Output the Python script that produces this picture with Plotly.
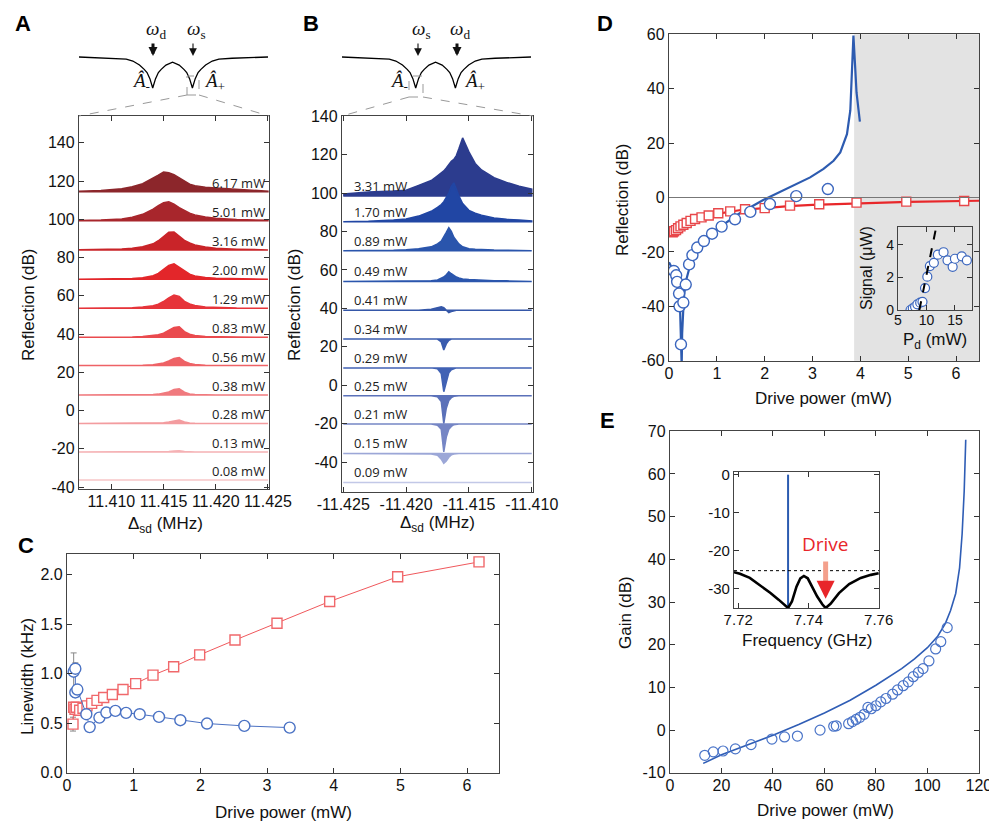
import plotly.graph_objects as go

# Reference canvas size in pixels; the page body adds an 8 px margin
W, H = 997, 831
PAD = 8
FW, FH = W - 2 * PAD, H - 2 * PAD

# ---------------- Panel A : red spectra (waterfall, offset in dB) ----------------
a_grid = [11.4069, 11.409, 11.411, 11.412, 11.413, 11.414, 11.4145, 11.415, 11.4155,
          11.416, 11.4165, 11.417, 11.4175, 11.418, 11.419, 11.420, 11.422, 11.425]
a_labels = ["6.17 mW", "5.01 mW", "3.16 mW", "2.00 mW", "1.29 mW", "0.83 mW",
            "0.56 mW", "0.38 mW", "0.28 mW", "0.13 mW", "0.08 mW"]
a_base = [114.4, 99.3, 84.0, 68.7, 53.5, 38.3, 23.5, 8.1, -6.7, -21.7, -36.3]
a_rise = [
  [0.2, 0.6, 1.6, 2.6, 4.2, 7.0, 8.7, 10.3, 9.9, 8.9, 7.3, 5.4, 4.0, 3.2, 2.3, 1.9, 1.4, 0.3],
  [0.1, 0.3, 0.9, 1.8, 3.3, 6.0, 7.8, 9.3, 9.8, 8.6, 6.8, 5.2, 3.9, 3.0, 1.9, 1.2, 0.6, 0.2],
  [0.1, 0.2, 0.5, 0.9, 1.6, 3.2, 4.8, 7.0, 9.2, 9.3, 7.2, 5.0, 3.6, 2.6, 1.5, 0.9, 0.4, 0.1],
  [0, 0.1, 0.2, 0.4, 0.8, 1.8, 3.0, 5.0, 7.2, 8.0, 6.2, 4.0, 2.6, 1.7, 0.9, 0.5, 0.2, 0],
  [0, 0, 0.1, 0.3, 0.6, 1.3, 2.1, 3.5, 5.4, 6.9, 6.2, 3.6, 2.2, 1.4, 0.6, 0.3, 0.1, 0],
  [0, 0, 0.1, 0.2, 0.4, 0.8, 1.3, 2.2, 3.6, 5.2, 5.5, 3.0, 1.6, 0.9, 0.4, 0.2, 0.1, 0],
  [0, 0, 0, 0.1, 0.2, 0.5, 0.8, 1.4, 2.4, 3.8, 4.2, 2.2, 1.1, 0.6, 0.2, 0.1, 0, 0],
  [0, 0, 0, 0, 0.1, 0.3, 0.5, 0.9, 1.6, 2.9, 3.3, 1.5, 0.6, 0.3, 0.1, 0, 0, 0],
  [0, 0, 0, 0, 0, 0.1, 0.2, 0.3, 0.7, 1.4, 1.7, 0.7, 0.2, 0.1, 0, 0, 0, 0],
  [0, 0, 0, 0, 0, 0, 0, 0.1, 0.3, 0.6, 0.7, 0.3, 0.1, 0, 0, 0, 0, 0],
  [0] * 18,
]
a_colors = ["#8C262B", "#A8262C", "#C92429", "#E3262A", "#E6343A", "#EA4A4E",
            "#EE6266", "#F07A7E", "#F39C9F", "#F5B1B4", "#F7C6C8"]
a_xticks = [11.410, 11.415, 11.420, 11.425]
a_xtext = ["11.410", "11.415", "11.420", "11.425"]

# ---------------- Panel B : blue spectra (absolute dB values) ----------------
b_grid = [-11.425, -11.423, -11.421, -11.420, -11.419, -11.418, -11.4175, -11.4172,
          -11.417, -11.4168, -11.4166, -11.4164, -11.4162, -11.416, -11.4158, -11.4155,
          -11.415, -11.4145, -11.414, -11.413, -11.412, -11.411, -11.410]
b_labels = ["3.31 mW", "1.70 mW", "0.89 mW", "0.49 mW", "0.41 mW", "0.34 mW",
            "0.29 mW", "0.25 mW", "0.21 mW", "0.15 mW", "0.09 mW"]
b_base = [98.5, 85.0, 70.0, 54.0, 39.0, 24.0, 9.0, -5.5, -20.2, -35.5, -50.6]
b_vals = [
  [99.5, 100.5, 101, 101.5, 104, 106.5, 109, 110.5, 111.5, 113, 115, 116.5, 117.5, 119.5,
   123, 128.7, 121.4, 115.4, 112, 108, 105.5, 103.5, 102],
  [85, 85.3, 86, 86.5, 88, 90.5, 92.5, 94, 95.5, 97.5, 100, 103.5, 105.3, 102, 98.5, 94.5,
   91, 89.5, 88.5, 87, 86.3, 86, 85.5],
  [70, 70, 70.2, 70.5, 71, 72, 73.5, 75, 77, 79.5, 82, 80, 77, 75, 73.5, 72, 71, 70.7,
   70.5, 70.3, 70.2, 70, 70],
  [54, 54, 54, 54, 54, 54.3, 54.8, 55.5, 56.3, 57.5, 59, 58, 57, 56.3, 55.8, 55.3, 55,
   54.8, 54.6, 54.4, 54.3, 54.2, 54],
  [39, 39, 39, 39, 39, 39.5, 40.5, 40.8, 40.3, 39.2, 37.8, 38.3, 38.8, 39, 39, 39, 39,
   39, 39, 39, 39, 39, 39],
  [24, 24, 24, 24, 24, 24, 24, 22.5, 18.3, 21.5, 23.3, 24, 24, 24, 24, 24, 24, 24, 24,
   24, 24, 24, 24],
  [9, 9, 9, 9, 9, 9, 8.5, 6, -3.4, 2, 6.5, 8, 8.6, 9, 9, 9, 9, 9, 9, 9, 9, 9, 9],
  [-5.5, -5.5, -5.5, -5.5, -5.5, -5.5, -6, -8.5, -20, -12, -8, -6.5, -5.8, -5.5, -5.5,
   -5.5, -5.5, -5.5, -5.5, -5.5, -5.5, -5.5, -5.5],
  [-20.2, -20.2, -20.2, -20.2, -20.2, -20.2, -20.8, -23, -34.7, -27, -23, -21.5, -20.6,
   -20.2, -20.2, -20.2, -20.2, -20.2, -20.2, -20.2, -20.2, -20.2, -20.2],
  [-35.5, -35.5, -35.5, -35.5, -35.5, -35.8, -36.5, -38.5, -40.7, -39.5, -37.5, -36.3,
   -35.8, -35.5, -35.5, -35.5, -35.5, -35.5, -35.5, -35.5, -35.5, -35.5, -35.5],
  [-50.6] * 23,
]
b_colors = ["#2C3C8E", "#2146A4", "#2A55AC", "#2B56AD", "#3557A8", "#3A5CAF",
            "#4162B4", "#5B71B9", "#7686C5", "#9CA7D7", "#C2C8E7"]
b_xticks = [-11.425, -11.420, -11.415, -11.410]
b_xtext = ["-11.425", "-11.420", "-11.415", "-11.410"]

refl_ticks = [-40, -20, 0, 20, 40, 60, 80, 100, 120, 140]
refl_text = ["-40", "-20", "0", "20", "40", "60", "80", "100", "120", "140"]

# schematic double-dip resonance (arbitrary units)
schem_x = [0, 10, 18, 25, 28.5, 32, 34.5, 36, 37.5, 39, 40.5, 42, 43.5, 46, 49.5, 53, 55.5,
           57, 58.5, 60, 61.5, 63, 64.5, 67, 70.5, 74, 81, 89, 100]
schem_y = [0, -0.02, -0.04, -0.07, -0.13, -0.26, -0.4, -0.5, -0.7, -1.0, -0.7, -0.5, -0.4,
           -0.26, -0.17, -0.26, -0.4, -0.5, -0.7, -1.0, -0.7, -0.5, -0.4, -0.26, -0.13,
           -0.07, -0.04, -0.02, 0]

# ---------------- Panel C : linewidth ----------------
c_red_x = [0.09, 0.10, 0.12, 0.14, 0.19, 0.24, 0.30, 0.37, 0.45, 0.55, 0.68, 0.84, 1.03,
           1.29, 1.60, 1.99, 2.52, 3.15, 3.94, 4.96, 6.18]
c_red_y = [0.49, 0.66, 0.64, 0.66, 0.63, 0.65, 0.675, 0.70, 0.73, 0.76, 0.79, 0.84, 0.90,
           0.985, 1.07, 1.19, 1.34, 1.51, 1.73, 1.98, 2.13]
c_red_err = [0.07, 0.03, 0.02, 0.02, 0, 0, 0, 0, 0, 0, 0, 0, 0, 0, 0, 0, 0, 0, 0, 0, 0]
c_blue_x = [0.10, 0.125, 0.125, 0.155, 0.29, 0.34, 0.486, 0.59, 0.726, 0.886, 1.09, 1.38,
            1.70, 2.10, 2.66, 3.34]
c_blue_y = [1.02, 1.05, 0.81, 0.84, 0.59, 0.46, 0.556, 0.607, 0.624, 0.604, 0.59, 0.563,
            0.53, 0.496, 0.472, 0.455]
c_blue_err = [0.19, 0.06, 0.05, 0.03, 0, 0, 0, 0, 0, 0, 0, 0, 0, 0, 0, 0]

# ---------------- Panel D : reflection vs drive power ----------------
d_blue_x = [0.10, 0.15, 0.17, 0.21, 0.22, 0.25, 0.30, 0.35, 0.42, 0.49, 0.59, 0.73, 0.90,
            1.10, 1.38, 1.70, 2.11, 2.66, 3.32]
d_blue_y = [-27.0, -28.6, -31.0, -35.3, -40.0, -54.0, -38.6, -32.0, -24.6, -21.2, -18.4,
            -16.0, -13.3, -10.7, -8.0, -5.3, -2.4, 0.5, 3.1]
d_red_x = [0.077, 0.105, 0.147, 0.19, 0.24, 0.30, 0.37, 0.45, 0.545, 0.68, 0.83, 1.03,
           1.28, 1.59, 2.0, 2.53, 3.14, 3.92, 4.96, 6.17]
d_red_y = [-12.8, -12.4, -12.0, -11.3, -10.6, -10.0, -9.4, -8.6, -7.9, -7.3, -6.6, -5.8,
           -5.1, -4.3, -3.9, -3.0, -2.5, -1.9, -1.5, -1.3]
d_blue_fit_x = [0.0, 0.08, 0.15, 0.2, 0.23, 0.245, 0.255, 0.265, 0.275, 0.29, 0.31, 0.35,
                0.44, 0.54, 0.7, 0.9, 1.13, 1.48, 1.97, 2.25, 2.6, 2.95, 3.23, 3.44, 3.58,
                3.72, 3.79, 3.83, 3.855, 3.89, 3.92, 3.96, 3.99]
d_blue_fit_y = [-23.8, -26.5, -30, -34, -40, -50, -62, -62, -50, -43, -37, -31, -25, -20.8,
                -16.5, -12.8, -10.0, -5.8, -0.9, 1.5, 4.3, 7.4, 10.5, 13.5, 16.6, 23.3, 32,
                48, 59.5, 48.4, 38.6, 32.5, 27.9]
d_red_fit_x = [0.0, 0.05, 0.1, 0.2, 0.3, 0.5, 0.75, 1.0, 1.5, 2.0, 2.5, 3.0, 4.0, 5.0, 6.5]
d_red_fit_y = [-14, -13, -12.3, -11, -10, -8.3, -7, -6, -4.6, -3.8, -3.2, -2.7, -2.1, -1.6,
               -1.2]
d_unstable_from = 3.87
d_xticks = [0, 1, 2, 3, 4, 5, 6]
d_yticks = [-60, -40, -20, 0, 20, 40, 60]
d_ytext = ["-60", "-40", "-20", "0", "20", "40", "60"]

# D inset : signal vs drive power
di_x = [7.2, 7.6, 8.0, 8.4, 8.9, 9.3, 9.75, 10.15, 10.6, 11.3, 12.0, 13.0, 13.7, 14.6,
        15.0, 16.2, 17.1]
di_y = [0.0, 0.1, 0.2, 0.35, 0.45, 0.5, 1.35, 2.05, 2.7, 2.9, 3.4, 3.55, 3.05, 2.65, 3.15,
        3.3, 3.05]
di_fit_x = [8.75, 11.6]
di_fit_y = [0, 4.9]

# ---------------- Panel E : gain ----------------
e_x = [13.5, 16.8, 20.6, 25.4, 31.5, 39.6, 44.5, 49.5, 58.3, 63.6, 64.6, 69.4, 70.9, 72.3,
       73.8, 75.4, 76.9, 78.2, 80.0, 81.9, 83.9, 86.5, 88.4, 90.6, 92.6, 94.5, 96.5, 98.3,
       100.6, 103.2, 105.2, 107.7]
e_y = [-5.9, -5.1, -4.9, -4.4, -3.4, -2.1, -1.6, -1.4, 0.0, 0.9, 1.0, 1.5, 2.0, 2.5, 3.0,
       3.7, 5.3, 5.0, 5.7, 6.6, 7.4, 8.4, 9.4, 10.4, 11.3, 12.5, 13.5, 14.4, 16.2, 19.0,
       20.7, 24.0]
e_fit_x = [12.9, 20, 30, 40, 50, 60, 70, 80, 90, 95, 100, 104, 107, 109, 111, 112.5, 113.5,
           114.3, 114.9]
e_fit_y = [-7.8, -5.8, -3.5, -1.2, 1.3, 4.0, 7.0, 10.5, 14.4, 16.7, 19.3, 22.0, 25.0, 28,
           32, 38, 46, 56, 68]

# E inset : spectrum
ei_f = [7.7188, 7.7205, 7.7233, 7.7262, 7.7291, 7.7315, 7.7334, 7.7342, 7.7353, 7.7366,
        7.7377, 7.7387, 7.7398, 7.7411, 7.7425, 7.744, 7.7449, 7.7463, 7.7487, 7.7516,
        7.7549, 7.7578, 7.76]
ei_p = [-25.6, -26.0, -27.1, -29.0, -31.0, -32.8, -34.3, -35.0, -33.3, -29.4, -27.2, -26.6,
        -27.2, -29.4, -32.0, -34.1, -35.0, -33.9, -31.1, -28.7, -27.1, -26.3, -25.9]
ei_signal_f = 7.7342
ei_drive_f = 7.7449
ei_level = -25.2


# pixel position in the browser window -> paper coordinate of the figure
def px(x):
  return (x - PAD) / FW


def py(y):
  return 1 - (y - PAD) / FH


def frame(dom, rng, tickvals, ticktext=None, size=16, anchor='y', standoff=0):
  ax = dict(domain=dom, range=rng, tickmode='array', tickvals=tickvals, ticks='inside',
            ticklen=5, tickwidth=1, tickcolor='#333', showline=True, linecolor='#444',
            linewidth=1.3, mirror='ticks', showgrid=False, zeroline=False, anchor=anchor,
            fixedrange=True, automargin=False, tickangle=0, ticklabeloverflow='allow',
            ticklabelstandoff=standoff,
            tickfont=dict(family='Liberation Sans, Arial', size=size, color='#111'))
  if ticktext is not None:
    ax['ticktext'] = ticktext
  return ax


fig = go.Figure()
layout = {}

# axis boxes (pixel positions in the window) : x-range, y-range
boxes = {
  1: ((79, 269), (116, 489)),
  2: ((342, 533), (116, 492)),
  3: ((67, 499), (554, 773)),
  4: ((669, 979), (34, 361)),
  5: ((898, 972), (227, 310)),
  6: ((670, 979), (431, 773)),
  7: ((734, 879), (472, 608)),
  8: ((79, 268), (50, 92)),
  9: ((342, 531), (50, 92)),
}


def set_axes(i, xr, yr, xt, xtxt, yt, ytxt, size=16, xstand=-2):
  (x0, x1), (y0, y1) = boxes[i]
  xk = 'xaxis' if i == 1 else 'xaxis%d' % i
  yk = 'yaxis' if i == 1 else 'yaxis%d' % i
  layout[xk] = frame([px(x0), px(x1)], xr, xt, xtxt, size,
                     anchor='y' if i == 1 else 'y%d' % i, standoff=xstand)
  layout[yk] = frame([py(y1), py(y0)], yr, yt, ytxt, size,
                     anchor='x' if i == 1 else 'x%d' % i)


set_axes(1, [11.4069, 11.4251], [-41, 154], a_xticks, a_xtext, refl_ticks, refl_text)
set_axes(2, [-11.4251, -11.4099], [-55.6, 140.1], b_xticks, b_xtext, refl_ticks, refl_text)
set_axes(3, [0, 6.48], [-0.004, 2.21], [0, 1, 2, 3, 4, 5, 6], None,
         [0, 0.5, 1.0, 1.5, 2.0], ["0.0", "0.5", "1.0", "1.5", "2.0"])
set_axes(4, [0, 6.48], [-60.1, 60.1], d_xticks, None, d_yticks, d_ytext)
set_axes(5, [5, 18], [0, 5.1], [5, 10, 15], None, [0, 2, 4], None, size=14, xstand=-3)
set_axes(6, [0, 120.05], [-10.05, 70.05], [0, 20, 40, 60, 80, 100, 120], None,
         [-10, 0, 10, 20, 30, 40, 50, 60, 70],
         ["-10", "0", "10", "20", "30", "40", "50", "60", "70"])
set_axes(7, [7.7188, 7.7601], [-35, 0.7], [7.72, 7.74, 7.76], ["7.72", "7.74", "7.76"],
         [0, -10, -20, -30], ["0", "-10", "-20", "-30"], size=15)
for i in (8, 9):
  (x0, x1), (y0, y1) = boxes[i]
  layout['xaxis%d' % i] = dict(domain=[px(x0), px(x1)], range=[0, 100], visible=False,
                               anchor='y%d' % i, fixedrange=True)
  layout['yaxis%d' % i] = dict(domain=[py(y1), py(y0)], range=[-1.13, 0.226], visible=False,
                               anchor='x%d' % i, fixedrange=True)

annotations = []


def note(text, x, y, font, angle=0):
  annotations.append(dict(x=px(x), y=py(y), xref='paper', yref='paper', showarrow=False,
                          text=text, textangle=angle, font=font,
                          xanchor='center', yanchor='middle'))


# Panel A traces (filled from baseline)
for base, rise, col, lab in zip(a_base, a_rise, a_colors, a_labels):
  ys = [base + r for r in rise]
  fig.add_trace(go.Scatter(
    x=a_grid + [a_grid[-1], a_grid[0]], y=ys + [base, base],
    fill='toself', fillcolor=col, mode='lines', line=dict(color=col, width=1.5),
    xaxis='x', yaxis='y', showlegend=False, hoverinfo='skip'))
  annotations.append(dict(x=11.4249, y=base, xref='x', yref='y', text=lab, showarrow=False,
                          xanchor='right', yanchor='bottom', yshift=-2,
                          font=dict(family='Open Sans', size=13, color='#222')))

# Panel B traces
for base, vals, col, lab in zip(b_base, b_vals, b_colors, b_labels):
  fig.add_trace(go.Scatter(
    x=b_grid + [b_grid[-1], b_grid[0]], y=vals + [base, base],
    fill='toself', fillcolor=col, mode='lines', line=dict(color=col, width=1.5),
    xaxis='x2', yaxis='y2', showlegend=False, hoverinfo='skip'))
  annotations.append(dict(x=-11.4243, y=base, xref='x2', yref='y2', text=lab, showarrow=False,
                          xanchor='left', yanchor='bottom', yshift=-1,
                          font=dict(family='Open Sans', size=13, color='#222')))

# schematics
for i in (8, 9):
  fig.add_trace(go.Scatter(x=schem_x, y=schem_y, mode='lines', line=dict(color='black', width=1.3),
                           xaxis='x%d' % i, yaxis='y%d' % i, showlegend=False, hoverinfo='skip'))

# Panel C
fig.add_trace(go.Scatter(
  x=c_red_x, y=c_red_y, mode='lines+markers', xaxis='x3', yaxis='y3', showlegend=False,
  line=dict(color='#F0585C', width=1),
  error_y=dict(type='data', array=c_red_err, color='#888', thickness=1, width=3),
  marker=dict(symbol='square', size=10, color='white', line=dict(color='#F0686B', width=1.4))))
fig.add_trace(go.Scatter(
  x=c_blue_x, y=c_blue_y, mode='lines+markers', xaxis='x3', yaxis='y3', showlegend=False,
  line=dict(color='#4A70C2', width=1),
  error_y=dict(type='data', array=c_blue_err, color='#888', thickness=1, width=3),
  marker=dict(symbol='circle', size=11, color='white', line=dict(color='#4A72C4', width=1.4))))

# Panel D
fig.add_trace(go.Scatter(x=d_red_fit_x, y=d_red_fit_y, mode='lines', xaxis='x4', yaxis='y4',
                         line=dict(color='#E8272A', width=2.2), showlegend=False))
fig.add_trace(go.Scatter(x=d_blue_fit_x, y=d_blue_fit_y, mode='lines', xaxis='x4', yaxis='y4',
                         line=dict(color='#2D5BB0', width=2.2), showlegend=False))
fig.add_trace(go.Scatter(
  x=d_red_x, y=d_red_y, mode='markers', xaxis='x4', yaxis='y4', showlegend=False,
  marker=dict(symbol='square', size=9, color='white', line=dict(color='#E8474A', width=1.4))))
fig.add_trace(go.Scatter(
  x=d_blue_x, y=d_blue_y, mode='markers', xaxis='x4', yaxis='y4', showlegend=False,
  marker=dict(symbol='circle', size=11, color='white', line=dict(color='#3B66BE', width=1.4))))

# D inset (markers first, dashed fit on top)
fig.add_trace(go.Scatter(
  x=di_x, y=di_y, mode='markers', xaxis='x5', yaxis='y5', showlegend=False,
  marker=dict(symbol='circle', size=9, color='white', line=dict(color='#3B66BE', width=1.2))))
fig.add_trace(go.Scatter(x=di_fit_x, y=di_fit_y, mode='lines', xaxis='x5', yaxis='y5',
                         line=dict(color='black', width=2, dash='dash'), showlegend=False))

# Panel E
fig.add_trace(go.Scatter(x=e_fit_x, y=e_fit_y, mode='lines', xaxis='x6', yaxis='y6',
                         line=dict(color='#2F5DB5', width=1.6), showlegend=False))
fig.add_trace(go.Scatter(
  x=e_x, y=e_y, mode='markers', xaxis='x6', yaxis='y6', showlegend=False,
  marker=dict(symbol='circle', size=10, color='rgba(255,255,255,0)', line=dict(color='#4A74C8', width=1.2))))

# E inset
fig.add_trace(go.Scatter(x=[ei_signal_f, ei_signal_f], y=[-35, 0], mode='lines', xaxis='x7',
                         yaxis='y7', line=dict(color='#2B5BB0', width=2), showlegend=False))
fig.add_trace(go.Scatter(x=ei_f, y=ei_p, mode='lines', xaxis='x7', yaxis='y7',
                         line=dict(color='black', width=2.6), showlegend=False))

shapes = []
# D: unstable region and zero line
shapes.append(dict(type='rect', xref='x4', yref='y4', x0=d_unstable_from, x1=6.48, y0=-60,
                   y1=60, fillcolor='#E3E3E3', line=dict(width=0), layer='below'))
shapes.append(dict(type='line', xref='x4 domain', yref='y4', x0=0, x1=1, y0=0, y1=0,
                   line=dict(color='#777', width=1)))
# E inset: dotted reference level
shapes.append(dict(type='line', xref='x7 domain', yref='y7', x0=0, x1=1, y0=ei_level,
                   y1=ei_level, line=dict(color='black', width=1, dash='dot')))

# zoom guides from schematics to panels A and B
for (bx0, bx1, by0, by1, ax0, ax1) in [(187, 199, 76, 95, 79, 269), (409, 423, 76, 97, 342, 533)]:
  shapes.append(dict(type='rect', xref='paper', yref='paper', x0=px(bx0), x1=px(bx1),
                     y0=py(by1), y1=py(by0), line=dict(color='#999', width=1, dash='dash')))
  shapes.append(dict(type='line', xref='paper', yref='paper', x0=px(bx0), y0=py(by1),
                     x1=px(ax0), y1=py(116), line=dict(color='#999', width=1, dash='dash')))
  shapes.append(dict(type='line', xref='paper', yref='paper', x0=px(bx1), y0=py(by1),
                     x1=px(ax1), y1=py(116), line=dict(color='#999', width=1, dash='dash')))

# Arrows for drive (thick) and signal (thin)
serif = dict(family='Liberation Serif, Times New Roman', size=19, color='#111')
for (x, thick, lab) in [(153, True, 'd'), (193, False, 's'), (418, False, 's'), (457, True, 'd')]:
  annotations.append(dict(x=px(x), y=py(56), xref='paper', yref='paper', text='', showarrow=True,
                          ax=0, ay=-14, arrowcolor='#111', arrowhead=2,
                          arrowwidth=3 if thick else 1.1,
                          arrowsize=0.6 if thick else 1.4))
  note('<i>ω</i><sub>%s</sub>' % lab, x + 3, 30, serif)
for (x, sign) in [(141, '-'), (214, '+'), (399, '-'), (474, '+')]:
  note('<i>Â</i><sub>%s</sub>' % sign, x, 82, serif)

# Drive arrow in E inset
annotations.append(dict(x=ei_drive_f, y=-29.5, xref='x7', yref='y7', text='', showarrow=True,
                        ax=0, ay=-27, arrowcolor='#F4A08C', arrowwidth=5, arrowhead=0))
annotations.append(dict(x=ei_drive_f, y=-32.6, xref='x7', yref='y7', text='', showarrow=True,
                        ax=0, ay=-9, arrowcolor='#E8262A', arrowwidth=4, arrowhead=2,
                        arrowsize=0.9))
annotations.append(dict(x=ei_drive_f, y=-18.2, xref='x7', yref='y7', text='Drive',
                        showarrow=False, xanchor='center', yanchor='middle',
                        font=dict(family='Open Sans', size=19, color='#E8262A')))

# Panel letters
for (lab, x, y) in [('A', 23, 24), ('B', 311, 24), ('C', 26, 545), ('D', 605, 23), ('E', 607, 421)]:
  note('<b>%s</b>' % lab, x, y, dict(family='Liberation Sans, Arial', size=22, color='black'))

# Axis titles
tf = dict(family='Liberation Sans, Arial', size=17, color='#111')
titles = [
  ('Reflection (dB)', 28, 305, -90, tf),
  ('Δ<sub>sd</sub> (MHz)', 165, 525, 0, tf),
  ('Reflection (dB)', 294, 305, -90, tf),
  ('Δ<sub>sd</sub> (MHz)', 437, 524, 0, tf),
  ('Linewidth (kHz)', 27, 677, -90, tf),
  ('Drive power (mW)', 283, 812, 0, tf),
  ('Reflection (dB)', 623, 200, -90, tf),
  ('Drive power (mW)', 823, 398, 0, tf),
  ('Signal (μW)', 867, 268, -90, dict(tf, size=16)),
  ('P<sub>d</sub> (mW)', 935, 341, 0, dict(tf, size=17)),
  ('Gain (dB)', 625, 613, -90, tf),
  ('Drive power (mW)', 825, 810, 0, tf),
  ('Frequency (GHz)', 807, 640, 0, dict(tf, size=17)),
]
for (txt, x, y, ang, f) in titles:
  note(txt, x, y, f, ang)

fig.update_layout(
  width=FW, height=FH, margin=dict(l=0, r=0, t=0, b=0, autoexpand=False),
  paper_bgcolor='white', plot_bgcolor='rgba(0,0,0,0)',
  showlegend=False, annotations=annotations, shapes=shapes,
  **layout
)

fig.write_html("out.html")
